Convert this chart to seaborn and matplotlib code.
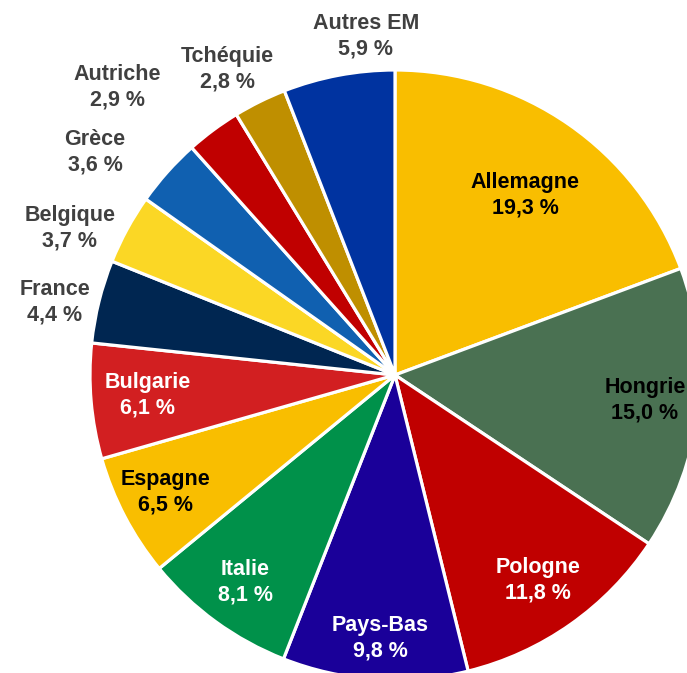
import matplotlib
matplotlib.use("Agg")
import matplotlib.pyplot as plt
import seaborn as sns

# Data
countries = ["Allemagne", "Hongrie", "Pologne", "Pays-Bas", "Italie", "Espagne",
             "Bulgarie", "France", "Belgique", "Grèce", "Autriche", "Tchéquie", "Autres EM"]
shares = [19.3, 15.0, 11.8, 9.8, 8.1, 6.5, 6.1, 4.4, 3.7, 3.6, 2.9, 2.8, 5.9]
value_labels = ["19,3 %", "15,0 %", "11,8 %", "9,8 %", "8,1 %", "6,5 %", "6,1 %",
                "4,4 %", "3,7 %", "3,6 %", "2,9 %", "2,8 %", "5,9 %"]

# Styles
colors = ["#F9BE00", "#4A7152", "#C00000", "#1A0099", "#00914A", "#F9BE00",
          "#D21F21", "#002651", "#FBD725", "#1060B0", "#C00000", "#BF8F00", "#0033A0"]
text_colors = ["#000000", "#000000", "#FFFFFF", "#FFFFFF", "#FFFFFF", "#000000",
               "#FFFFFF", "#404040", "#404040", "#404040", "#404040", "#404040", "#404040"]
# label block centres in pixel coords (x, y from top)
label_pos = [(525, 195), (645, 400), (538, 580), (380, 638), (245, 582), (165, 492),
             (148, 395), (55, 302), (70, 228), (95, 152), (117, 87), (227, 69), (366, 36)]

sns.set_theme(style="white")
plt.rcParams["font.family"] = ["Liberation Sans", "DejaVu Sans"]

W, H = 687, 673
fig = plt.figure(figsize=(W / 100, H / 100), dpi=100)
ax = fig.add_axes([0, 0, 1, 1])

cx, cy, r = 395, H - 375, 305
ax.pie(shares, colors=colors, startangle=90, counterclock=False,
       center=(cx, cy), radius=r, frame=True,
       wedgeprops=dict(edgecolor="white", linewidth=2.3))
ax.set_xlim(0, W)
ax.set_ylim(0, H)
ax.set_aspect("equal")
ax.axis("off")

for name, val, (x, y), tc in zip(countries, value_labels, label_pos, text_colors):
    ax.text(x, H - y, f"{name}\n{val}", ha="center", va="center", color=tc,
            fontsize=15.5, fontweight="bold", linespacing=1.3)

fig.savefig("out.png", dpi=100)
